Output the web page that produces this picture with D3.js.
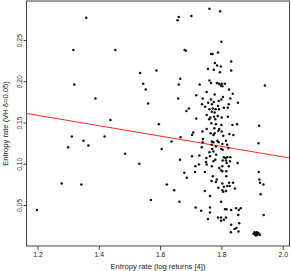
<!DOCTYPE html>
<html><head><meta charset="utf-8">
<script src="https://cdn.jsdelivr.net/npm/d3@7"></script>
<style>
html,body{margin:0;padding:0;background:#fff;}
text{font-family:"Liberation Sans",Arial,sans-serif;fill:#222;}
</style></head><body>
<svg id="chart" width="291" height="271"></svg>
<script>
// entropy rate (log returns [4])
const xVals = [1.359,1.317,1.454,1.535,1.588,1.320,1.545,1.553,1.389,1.561,1.438,1.596,1.312,1.419,1.350,1.300,1.366,1.486,1.532,1.279,1.343,1.570,1.198,
1.761,1.796,1.661,1.657,1.702,1.800,1.680,1.684,1.766,1.771,1.789,1.832,1.779,1.786,1.798,1.756,1.775,1.832,1.795,1.666,1.661,1.761,1.766,1.729,1.785,1.792,1.801,1.811,1.798,1.803,1.825,1.942,1.752,1.778,1.837,1.718,1.659,1.739,1.805,1.800,1.829,1.791,1.854,1.766,1.757,1.775,1.737,1.747,1.769,1.789,1.824,1.808,1.821,1.694,1.686,1.761,1.772,1.781,1.792,1.769,1.778,1.752,1.764,1.776,1.788,1.801,1.821,1.718,1.760,1.780,1.767,1.782,1.800,1.836,1.851,1.923,1.752,1.777,1.793,
1.708,1.704,1.738,1.765,1.778,1.790,1.801,1.826,1.839,1.774,1.806,1.667,1.740,1.637,1.769,1.787,1.815,1.739,1.774,1.791,1.803,1.768,1.819,1.921,1.782,1.736,1.823,1.605,1.770,1.799,1.804,1.774,1.761,1.704,1.728,1.763,1.783,1.808,1.819,1.813,1.829,1.751,1.665,1.804,1.815,1.774,1.780,1.750,1.828,1.817,1.853,1.727,1.752,1.715,1.769,1.803,1.824,1.793,1.799,1.746,1.714,1.803,1.816,1.679,1.922,1.772,1.816,1.687,1.785,1.782,1.768,1.924,1.825,1.838,1.926,1.937,1.622,1.803,1.819,1.827,1.808,1.790,1.844,1.646,1.746,1.803,1.806,1.815,1.763,1.928,1.663,1.799,1.716,1.763,1.812,1.816,1.832,1.848,1.863,1.857,1.734,1.763,1.855,1.938,1.799,1.789,1.815,1.756,1.808,1.799,1.858,1.832,1.849,1.843,1.831,1.856,
1.905,1.908,1.910,1.912,1.914,1.916,1.918,1.920,1.922,1.926,1.913];
// entropy rate (VH delta = 0.05)
const yVals = [0.277,0.238,0.238,0.210,0.213,0.196,0.197,0.190,0.179,0.173,0.153,0.148,0.133,0.133,0.128,0.120,0.122,0.112,0.100,0.076,0.075,0.056,0.044,
0.288,0.285,0.278,0.274,0.279,0.248,0.238,0.237,0.233,0.233,0.235,0.224,0.222,0.219,0.218,0.215,0.214,0.213,0.211,0.203,0.196,0.201,0.198,0.196,0.198,0.197,0.197,0.197,0.195,0.194,0.190,0.195,0.187,0.184,0.185,0.183,0.179,0.179,0.181,0.178,0.179,0.176,0.174,0.178,0.174,0.175,0.172,0.169,0.172,0.170,0.172,0.168,0.168,0.167,0.164,0.166,0.167,0.166,0.166,0.163,0.162,0.159,0.156,0.157,0.158,0.156,0.157,0.155,0.154,0.154,0.149,0.148,0.147,0.147,0.148,0.146,0.142,0.143,0.142,
0.138,0.135,0.139,0.137,0.137,0.140,0.139,0.136,0.135,0.135,0.134,0.132,0.130,0.127,0.127,0.128,0.128,0.126,0.126,0.126,0.124,0.123,0.123,0.125,0.121,0.120,0.119,0.118,0.118,0.118,0.117,0.115,0.114,0.109,0.110,0.109,0.111,0.108,0.108,0.107,0.108,0.107,0.105,0.104,0.104,0.103,0.105,0.102,0.103,0.101,0.101,0.099,0.099,0.097,0.097,0.097,0.097,0.095,0.092,0.090,0.090,0.091,0.091,0.089,0.090,0.085,0.085,0.083,0.081,0.078,0.079,0.081,0.077,0.077,0.077,0.075,0.075,0.076,0.073,0.073,0.072,0.071,0.070,0.068,0.067,0.068,0.066,0.067,0.061,0.063,0.054,0.054,0.047,0.047,0.045,0.045,0.044,0.046,0.046,0.044,0.043,0.041,0.038,0.038,0.035,0.035,0.035,0.033,0.032,0.031,0.028,0.026,0.022,0.021,0.017,0.018,
0.015,0.017,0.014,0.016,0.015,0.017,0.014,0.016,0.015,0.014,0.013];
const xTicks = [1.2,1.4,1.6,1.8,2.0];
const xTickLabels = ["1.2","1.4","1.6","1.8","2.0"];
const yTicks = [0.05,0.10,0.15,0.20,0.25];
const yTickLabels = ["0.05","0.10","0.15","0.20","0.25"];
const fitIntercept = 0.2342, fitSlope = -0.0629;
const xTitle = "Entropy rate (log returns [4])";
const yTitle = "Entropy rate (VH \u03b4=0.05)";

const L = 26.5, R = 289.5, T = 1, B = 246;
const x = d3.scaleLinear().domain([1.1641, 2.0222]).range([L, R]);
const y = d3.scaleLinear().domain([0.0003, 0.2973]).range([B, T]);
const svg = d3.select("#chart");

// regression line clipped to the box
svg.append("clipPath").attr("id","clip").append("rect")
  .attr("x",L).attr("y",T).attr("width",R-L).attr("height",B-T);
const xd = x.domain();
svg.append("line").attr("clip-path","url(#clip)")
  .attr("x1",x(xd[0])).attr("y1",y(fitIntercept+fitSlope*xd[0]))
  .attr("x2",x(xd[1])).attr("y2",y(fitIntercept+fitSlope*xd[1]))
  .attr("stroke","#ff2a2a").attr("stroke-width",1);

// points
svg.append("g").selectAll("circle").data(xVals.map((v,i)=>[v,yVals[i]])).join("circle")
  .attr("cx",d=>x(d[0])).attr("cy",d=>y(d[1])).attr("r",1.25).attr("fill","#111");

// box
svg.append("rect").attr("x",L).attr("y",T).attr("width",R-L).attr("height",B-T)
  .attr("fill","none").attr("stroke","#444").attr("stroke-width",1);

// x axis
const xa = svg.append("g").attr("transform",`translate(0,${B})`)
  .call(d3.axisBottom(x).tickValues(xTicks).tickFormat((d,i)=>xTickLabels[i]).tickSizeOuter(0).tickSize(4).tickPadding(2));
xa.select(".domain").remove();
xa.selectAll("line").attr("stroke","#444");
xa.selectAll("text").attr("font-size","6.8px").attr("fill","#222").style("font-family","Liberation Sans, Arial, sans-serif");

// y axis
const ya = svg.append("g").attr("transform",`translate(${L},0)`)
  .call(d3.axisLeft(y).tickValues(yTicks).tickFormat((d,i)=>yTickLabels[i]).tickSizeOuter(0).tickSize(3));
ya.select(".domain").remove();
ya.selectAll("line").attr("stroke","#444");
ya.selectAll("text").remove();
ya.selectAll(".tick").append("text")
  .attr("transform","translate(-4.5,0) rotate(-90)")
  .attr("text-anchor","middle").attr("dy","0")
  .attr("font-size","6.8px").attr("fill","#222")
  .style("font-family","Liberation Sans, Arial, sans-serif")
  .text((d,i)=>yTickLabels[i]);

// titles
svg.append("text").attr("x",(L+R)/2).attr("y",268.5).attr("text-anchor","middle")
  .attr("font-size","7.6px").text(xTitle);
svg.append("text").attr("transform",`translate(7.5,${(T+B)/2}) rotate(-90)`)
  .attr("text-anchor","middle").attr("font-size","7.6px").text(yTitle);
</script></body></html>
